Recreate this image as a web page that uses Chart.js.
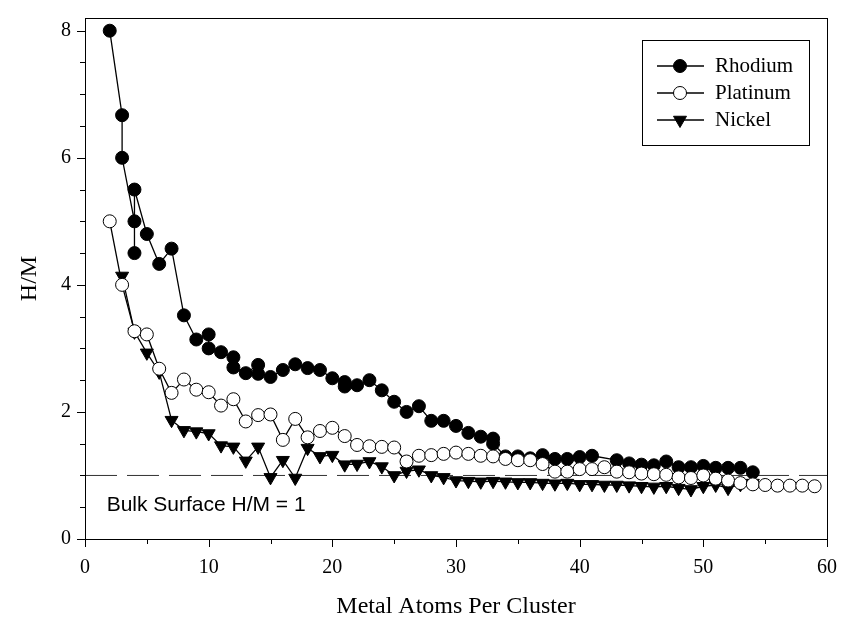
<!DOCTYPE html>
<html>
<head>
<meta charset="utf-8">
<script src="https://cdn.jsdelivr.net/npm/chart.js@4.4.1/dist/chart.umd.min.js"></script>
<style>
    html, body { margin: 0; padding: 0; background: #fff; }
    #wrap { width: 846px; height: 624px; position: relative; }
</style>
</head>
<body>
<div id="wrap"><canvas id="clusterChart"></canvas></div>
<script>
// Rhodium (filled circles)
const rhodiumX = [2, 3, 3, 4, 4, 4, 5, 6, 7, 8, 9, 10, 10, 11, 12, 12, 13, 14, 14, 15, 16, 17, 18, 19, 20,
    21, 21, 22, 23, 24, 25, 26, 27, 28, 29, 30, 31, 32, 33, 33, 34, 35, 36, 37, 38, 39, 40, 41,
    43, 44, 45, 46, 47, 48, 49, 50, 51, 52, 53, 54];
const rhodiumY = [8.0, 6.67, 6.0, 5.0, 4.5, 5.5, 4.8, 4.33, 4.57, 3.52, 3.14, 3.22, 3.0, 2.94, 2.86, 2.70, 2.61, 2.74, 2.60, 2.55, 2.66, 2.75, 2.69, 2.66, 2.53,
    2.47, 2.40, 2.42, 2.50, 2.34, 2.16, 2.0, 2.09, 1.86, 1.86, 1.78, 1.67, 1.61, 1.58, 1.50, 1.30, 1.30, 1.27, 1.32, 1.26, 1.26, 1.29, 1.31,
    1.24, 1.19, 1.17, 1.16, 1.22, 1.13, 1.13, 1.15, 1.12, 1.12, 1.12, 1.05];

// Platinum (open circles)
const platinumX = [2, 3, 4, 5, 6, 7, 8, 9, 10, 11, 12, 13, 14, 15, 16, 17, 18, 19, 20, 21, 22, 23, 24, 25, 26, 27, 28, 29, 30,
    31, 32, 33, 34, 35, 36, 37, 38, 39, 40, 41, 42, 43, 44, 45, 46, 47, 48, 49, 50, 51, 52, 53, 54, 55, 56, 57, 58, 59];
const platinumY = [5.0, 4.0, 3.27, 3.22, 2.68, 2.30, 2.51, 2.35, 2.31, 2.10, 2.20, 1.85, 1.95, 1.96, 1.56, 1.89, 1.60, 1.70, 1.75, 1.62, 1.48, 1.46, 1.45, 1.44, 1.22, 1.31, 1.32, 1.34, 1.36,
    1.34, 1.31, 1.30, 1.26, 1.24, 1.24, 1.18, 1.06, 1.06, 1.10, 1.10, 1.13, 1.06, 1.05, 1.03, 1.02, 1.01, 0.97, 0.96, 1.0, 0.95, 0.92, 0.88, 0.86, 0.85, 0.84, 0.84, 0.84, 0.83];

// Nickel (down triangles)
const nickelX = [3, 4, 5, 6, 7, 8, 9, 10, 11, 12, 13, 14, 15, 16, 17, 18, 19, 20, 21, 22, 23, 24, 25, 26, 27, 28, 29, 30,
    31, 32, 33, 34, 35, 36, 37, 38, 39, 40, 41, 42, 43, 44, 45, 46, 47, 48, 49, 50, 51, 52, 53, 54];
const nickelY = [4.14, 3.26, 2.93, 2.63, 1.87, 1.71, 1.69, 1.66, 1.47, 1.45, 1.23, 1.45, 0.97, 1.24, 0.96, 1.43, 1.30, 1.32, 1.17, 1.18, 1.22, 1.14, 1.0, 1.07, 1.09, 1.0, 0.97, 0.92,
    0.91, 0.90, 0.91, 0.90, 0.89, 0.89, 0.88, 0.87, 0.88, 0.86, 0.86, 0.85, 0.85, 0.84, 0.83, 0.82, 0.83, 0.80, 0.78, 0.83, 0.85, 0.80, 0.86, 0.88];

// Bulk surface reference line
const bulkX = [0, 60];
const bulkY = [1, 1];

const xTickValues = [0, 5, 10, 15, 20, 25, 30, 35, 40, 45, 50, 55, 60];
const yTickValues = [0, 0.5, 1, 1.5, 2, 2.5, 3, 3.5, 4, 4.5, 5, 5.5, 6, 6.5, 7, 7.5, 8];

const toPoints = (xs, ys) => xs.map((x, i) => ({ x: x, y: ys[i] }));

const serif = 'Liberation Serif';

// Frame box, major/minor tick marks, note text and the legend box
const decorations = {
    id: 'decorations',
    afterDraw(chart) {
        const { ctx, chartArea: a, scales: { x, y } } = chart;
        ctx.save();
        ctx.strokeStyle = '#000';
        ctx.lineWidth = 1;
        ctx.strokeRect(Math.round(a.left) + 0.5, Math.round(a.top) + 0.5,
            Math.round(a.right) - Math.round(a.left), Math.round(a.bottom) - Math.round(a.top));

        ctx.beginPath();
        xTickValues.forEach(v => {
            const px = Math.round(x.getPixelForValue(v)) + 0.5;
            const len = v % 10 === 0 ? 8 : 5;
            ctx.moveTo(px, a.bottom);
            ctx.lineTo(px, a.bottom + len);
        });
        yTickValues.forEach(v => {
            const py = Math.round(y.getPixelForValue(v)) + 0.5;
            const len = v % 2 === 0 ? 8 : 5;
            ctx.moveTo(a.left, py);
            ctx.lineTo(a.left - len, py);
        });
        ctx.stroke();

        // note under the dashed line
        ctx.fillStyle = '#000';
        ctx.font = '21px "Liberation Sans"';
        ctx.textAlign = 'left';
        ctx.textBaseline = 'middle';
        ctx.fillText('Bulk Surface H/M = 1', x.getPixelForValue(1.75), y.getPixelForValue(0.53));

        // legend
        const boxL = a.right - 185, boxT = a.top + 22, boxW = 167, boxH = 105;
        ctx.strokeRect(boxL + 0.5, boxT + 0.5, boxW, boxH);
        const rows = chart.data.datasets.filter(d => d.inLegend);
        rows.forEach((ds, i) => {
            const cy = boxT + 26 + i * 27;
            ctx.beginPath();
            ctx.lineWidth = 1.3;
            ctx.moveTo(boxL + 15, cy);
            ctx.lineTo(boxL + 62, cy);
            ctx.stroke();
            ctx.lineWidth = 1;
            ctx.fillStyle = ds.pointBackgroundColor;
            ctx.strokeStyle = '#000';
            Chart.helpers.drawPoint(ctx, {
                pointStyle: ds.pointStyle,
                radius: ds.pointRadius,
                rotation: ds.pointRotation || 0,
                borderWidth: 1
            }, boxL + 38, cy);
            ctx.fillStyle = '#000';
            ctx.font = '21px "' + serif + '"';
            ctx.textBaseline = 'middle';
            ctx.fillText(ds.label, boxL + 73, cy);
        });
        ctx.restore();
    }
};

const ctx = document.getElementById('clusterChart');
new Chart(ctx.getContext('2d'), {
    type: 'line',
    data: {
        datasets: [{
            label: 'Rhodium',
            inLegend: true,
            data: toPoints(rhodiumX, rhodiumY),
            borderColor: '#000',
            borderWidth: 1.3,
            pointStyle: 'circle',
            pointRadius: 6.5,
            pointBackgroundColor: '#000',
            pointBorderColor: '#000',
            pointBorderWidth: 1,
            order: 2
        }, {
            label: 'Platinum',
            inLegend: true,
            data: toPoints(platinumX, platinumY),
            borderColor: '#000',
            borderWidth: 1.3,
            pointStyle: 'circle',
            pointRadius: 6.5,
            pointBackgroundColor: '#fff',
            pointBorderColor: '#000',
            pointBorderWidth: 1,
            order: 0
        }, {
            label: 'Nickel',
            inLegend: true,
            data: toPoints(nickelX, nickelY),
            borderColor: '#000',
            borderWidth: 1.3,
            pointStyle: 'triangle',
            pointRotation: 180,
            pointRadius: 7.5,
            pointBackgroundColor: '#000',
            pointBorderColor: '#000',
            pointBorderWidth: 1,
            order: 1
        }, {
            label: 'Bulk',
            inLegend: false,
            data: toPoints(bulkX, bulkY),
            borderColor: '#333',
            borderWidth: 1,
            borderDash: [32, 10],
            pointRadius: 0,
            order: 3
        }]
    },
    options: {
        responsive: true,
        maintainAspectRatio: false,
        animation: false,
        layout: {
            padding: { left: 0, right: 13, top: 12, bottom: 0 }
        },
        plugins: {
            legend: { display: false },
            tooltip: { enabled: false }
        },
        scales: {
            x: {
                type: 'linear',
                min: 0,
                max: 60,
                grid: { display: false, drawTicks: true, tickLength: 8 },
                border: { display: false },
                afterBuildTicks: scale => { scale.ticks = xTickValues.map(v => ({ value: v })); },
                ticks: {
                    padding: 9,
                    color: '#000',
                    font: { family: serif, size: 20 },
                    maxRotation: 0,
                    callback: v => (v % 10 === 0 ? v : '')
                },
                title: {
                    display: true,
                    text: 'Metal Atoms Per Cluster',
                    color: '#000',
                    font: { family: serif, size: 24 },
                    padding: { top: 3.6, bottom: 2.6 }
                }
            },
            y: {
                type: 'linear',
                min: 0,
                max: 8.2,
                grid: { display: false, drawTicks: true, tickLength: 8 },
                border: { display: false },
                afterBuildTicks: scale => { scale.ticks = yTickValues.map(v => ({ value: v })); },
                ticks: {
                    padding: 6,
                    color: '#000',
                    font: { family: serif, size: 20 },
                    callback: v => (v % 2 === 0 ? v : '')
                },
                title: {
                    display: true,
                    text: 'H/M',
                    color: '#000',
                    font: { family: serif, size: 24 },
                    padding: { top: 15.6, bottom: 10.6 }
                }
            }
        }
    },
    plugins: [decorations]
});
</script>
</body>
</html>
